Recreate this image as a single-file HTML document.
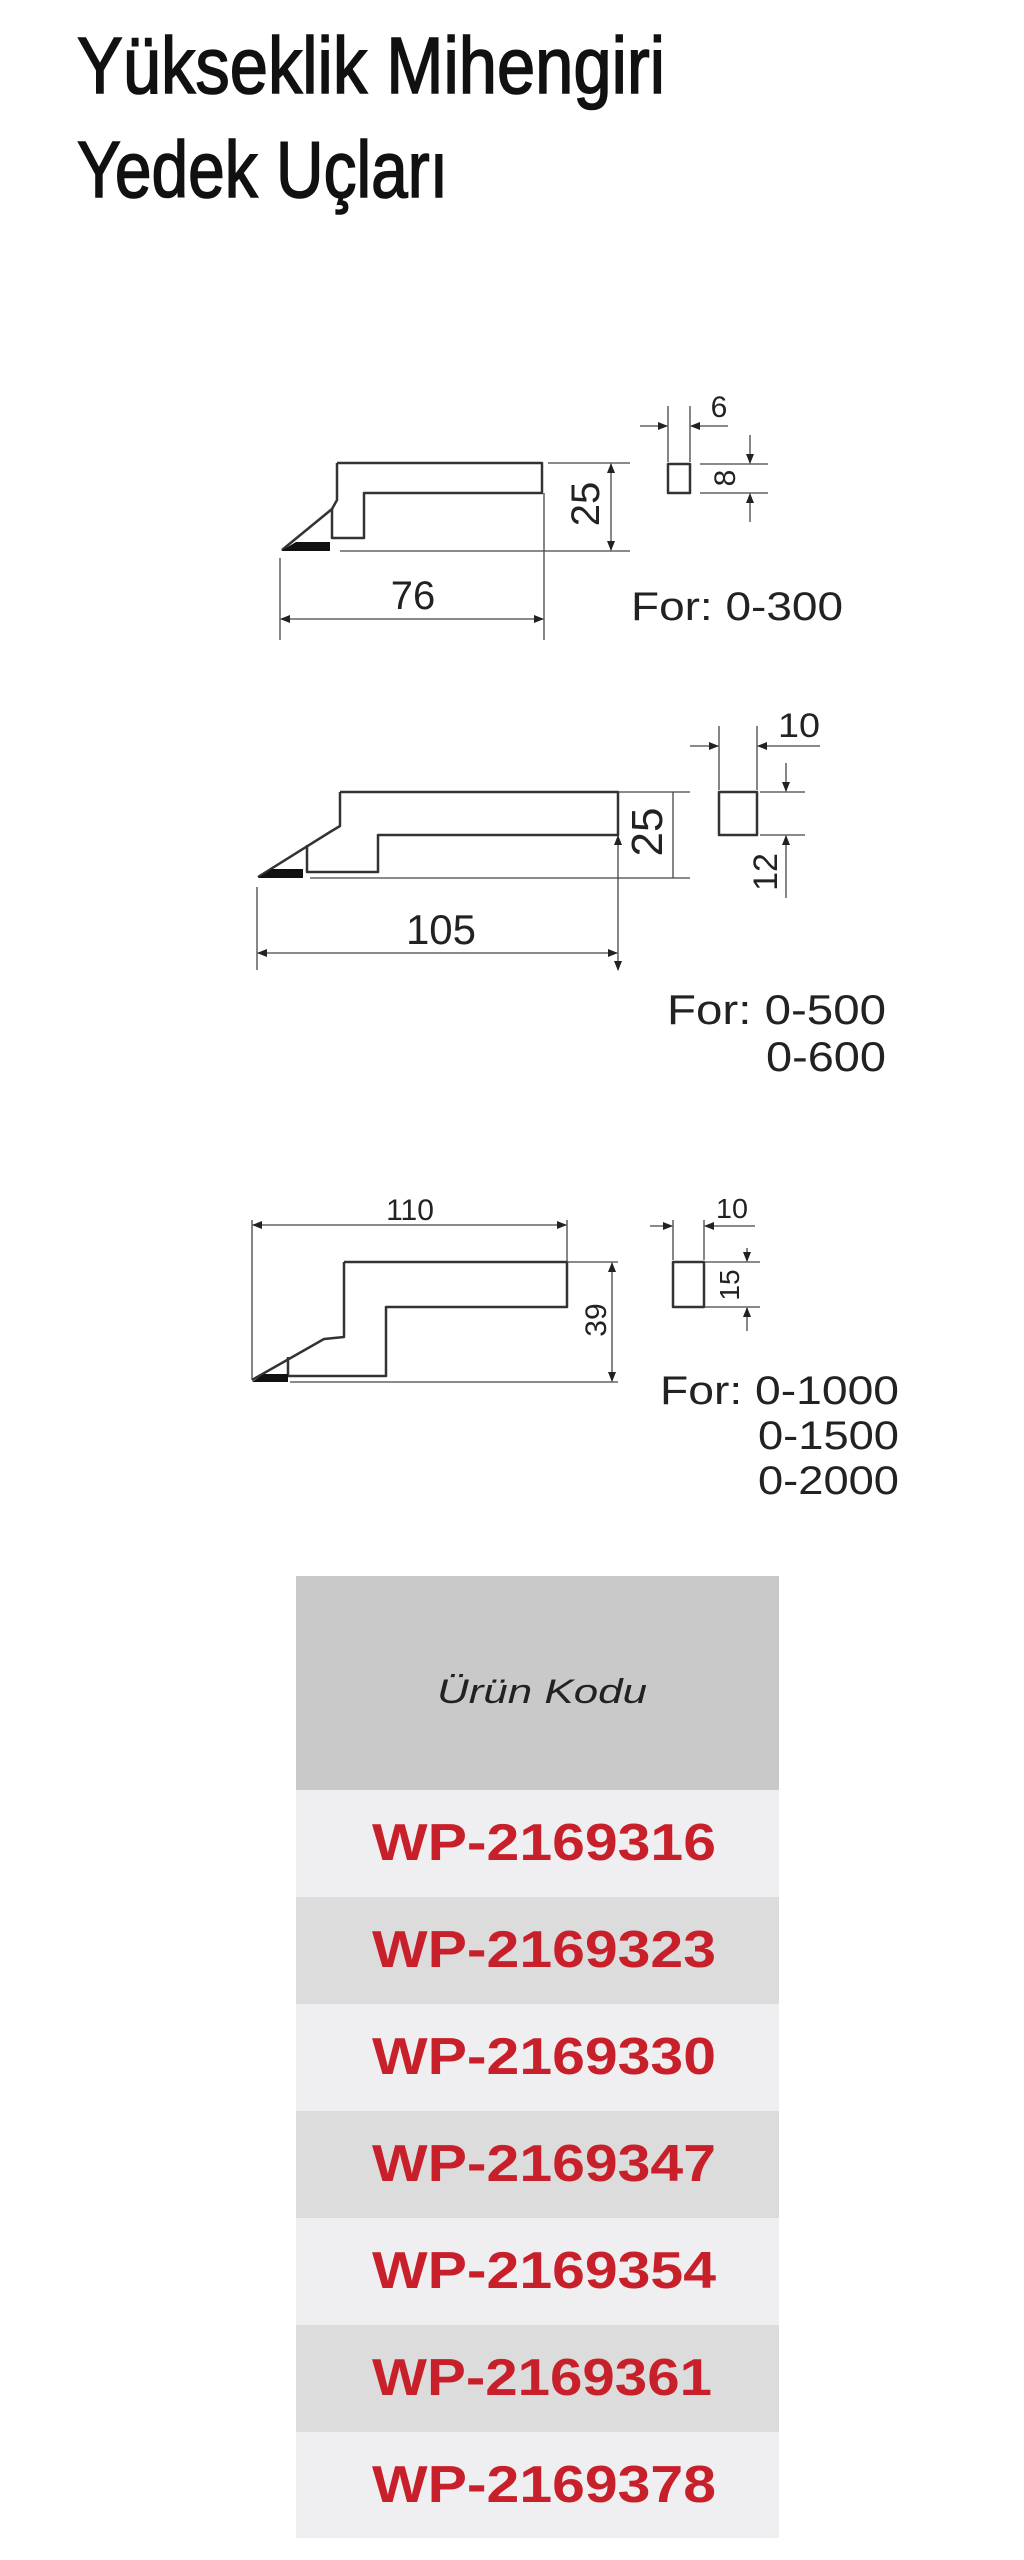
<!DOCTYPE html>
<html><head><meta charset="utf-8"><style>
html,body{margin:0;padding:0;background:#fff;}
svg{display:block;}
</style></head><body>
<svg width="1024" height="2560" viewBox="0 0 1024 2560" xmlns="http://www.w3.org/2000/svg">
<defs>
<marker id="a" markerWidth="10" markerHeight="8" refX="9" refY="4" orient="auto" markerUnits="userSpaceOnUse"><path d="M0,0 L10,4 L0,8 z" fill="#222"/></marker>
</defs>
<g font-family="Liberation Sans Narrow, Liberation Sans, sans-serif" fill="#111" stroke="#111" stroke-width="1.6">
<text x="77" y="93" font-size="80" textLength="588" lengthAdjust="spacingAndGlyphs">Yükseklik Mihengiri</text>
<text x="77" y="197" font-size="80" textLength="371" lengthAdjust="spacingAndGlyphs">Yedek Uçları</text>
</g>

<g fill="none" stroke="#333" stroke-width="2.5" stroke-linejoin="round">
<path d="M337,463 L542,463 L542,493 L364,493 L364,538 L332,538 L332,509"/>
<path d="M337,463 L337,500 L332,509 L282,550"/>
<path d="M340,792 L618,792 L618,835 L378,835 L378,872 L307,872 L307,845"/>
<path d="M340,792 L340,826 L330,832 L258,877"/>
<path d="M344,1262 L567,1262 L567,1307 L386,1307 L386,1376 L288,1376 L288,1357"/>
<path d="M344,1262 L344,1337 L324,1339 L252,1380"/>
<rect x="668" y="464" width="22" height="29"/>
<rect x="719" y="792" width="38" height="43"/>
<rect x="673" y="1262" width="31" height="45"/>
</g>
<g fill="#111">
<path d="M281,551 L296,542 L330,542 L330,551 z"/>
<path d="M258,878 L272,869 L303,869 L303,878 z"/>
<path d="M252,1382 L264,1374 L288,1374 L288,1382 z"/>
</g>

<g stroke="#444" stroke-width="1.3" fill="none">
<line x1="340" y1="551" x2="630" y2="551"/>
<line x1="548" y1="463" x2="630" y2="463"/>
<line x1="611" y1="507" x2="611" y2="464" marker-end="url(#a)"/>
<line x1="611" y1="507" x2="611" y2="550" marker-end="url(#a)"/>
<line x1="280" y1="558" x2="280" y2="640"/>
<line x1="544" y1="493" x2="544" y2="640"/>
<line x1="412" y1="619" x2="281" y2="619" marker-end="url(#a)"/>
<line x1="412" y1="619" x2="543" y2="619" marker-end="url(#a)"/>
<line x1="668" y1="406" x2="668" y2="462"/>
<line x1="690" y1="406" x2="690" y2="462"/>
<line x1="640" y1="426" x2="667" y2="426" marker-end="url(#a)"/>
<line x1="728" y1="426" x2="691" y2="426" marker-end="url(#a)"/>
<line x1="700" y1="464" x2="768" y2="464"/>
<line x1="700" y1="493" x2="768" y2="493"/>
<line x1="750" y1="435" x2="750" y2="463" marker-end="url(#a)"/>
<line x1="750" y1="522" x2="750" y2="494" marker-end="url(#a)"/>
<line x1="310" y1="878" x2="690" y2="878"/>
<line x1="618" y1="792" x2="690" y2="792"/>
<line x1="673" y1="792" x2="673" y2="878"/>
<line x1="618" y1="900" x2="618" y2="836" marker-end="url(#a)"/>
<line x1="618" y1="900" x2="618" y2="970" marker-end="url(#a)"/>
<line x1="257" y1="887" x2="257" y2="970"/>
<line x1="440" y1="953" x2="258" y2="953" marker-end="url(#a)"/>
<line x1="440" y1="953" x2="617" y2="953" marker-end="url(#a)"/>
<line x1="719" y1="726" x2="719" y2="790"/>
<line x1="757" y1="726" x2="757" y2="790"/>
<line x1="690" y1="746" x2="718" y2="746" marker-end="url(#a)"/>
<line x1="820" y1="746" x2="758" y2="746" marker-end="url(#a)"/>
<line x1="760" y1="792" x2="805" y2="792"/>
<line x1="760" y1="835" x2="805" y2="835"/>
<line x1="786" y1="763" x2="786" y2="791" marker-end="url(#a)"/>
<line x1="786" y1="898" x2="786" y2="836" marker-end="url(#a)"/>
<line x1="252" y1="1220" x2="252" y2="1380"/>
<line x1="567" y1="1220" x2="567" y2="1262"/>
<line x1="410" y1="1225" x2="253" y2="1225" marker-end="url(#a)"/>
<line x1="410" y1="1225" x2="566" y2="1225" marker-end="url(#a)"/>
<line x1="290" y1="1382" x2="618" y2="1382"/>
<line x1="567" y1="1262" x2="618" y2="1262"/>
<line x1="612" y1="1320" x2="612" y2="1263" marker-end="url(#a)"/>
<line x1="612" y1="1320" x2="612" y2="1381" marker-end="url(#a)"/>
<line x1="673" y1="1220" x2="673" y2="1260"/>
<line x1="704" y1="1220" x2="704" y2="1260"/>
<line x1="650" y1="1226" x2="672" y2="1226" marker-end="url(#a)"/>
<line x1="755" y1="1226" x2="705" y2="1226" marker-end="url(#a)"/>
<line x1="704" y1="1262" x2="760" y2="1262"/>
<line x1="704" y1="1307" x2="760" y2="1307"/>
<line x1="747" y1="1248" x2="747" y2="1261" marker-end="url(#a)"/>
<line x1="747" y1="1331" x2="747" y2="1308" marker-end="url(#a)"/>
</g>

<g font-family="Liberation Sans, Arial, sans-serif" fill="#222">
<text x="413" y="609" font-size="40" text-anchor="middle">76</text>
<text transform="translate(599,504) rotate(-90)" font-size="40" text-anchor="middle">25</text>
<text x="719" y="417" font-size="30" text-anchor="middle">6</text>
<text transform="translate(735,478) rotate(-90)" font-size="30" text-anchor="middle">8</text>
<text x="631" y="620" font-size="40" textLength="212" lengthAdjust="spacingAndGlyphs">For: 0-300</text>

<text x="441" y="944" font-size="42" text-anchor="middle">105</text>
<text transform="translate(662,832) rotate(-90)" font-size="44" text-anchor="middle">25</text>
<text x="778" y="737" font-size="34" textLength="42" lengthAdjust="spacingAndGlyphs">10</text>
<text transform="translate(777,872) rotate(-90)" font-size="34" text-anchor="middle">12</text>
<text x="667" y="1024" font-size="42" textLength="219" lengthAdjust="spacingAndGlyphs">For: 0-500</text>
<text x="766" y="1071" font-size="42" textLength="120" lengthAdjust="spacingAndGlyphs">0-600</text>

<text x="410" y="1220" font-size="30" text-anchor="middle">110</text>
<text transform="translate(606,1320) rotate(-90)" font-size="30" text-anchor="middle">39</text>
<text x="716" y="1218" font-size="28" textLength="32" lengthAdjust="spacingAndGlyphs">10</text>
<text transform="translate(739,1285) rotate(-90)" font-size="28" text-anchor="middle">15</text>
<text x="660" y="1404" font-size="40" textLength="239" lengthAdjust="spacingAndGlyphs">For: 0-1000</text>
<text x="758" y="1449" font-size="40" textLength="141" lengthAdjust="spacingAndGlyphs">0-1500</text>
<text x="758" y="1494" font-size="40" textLength="141" lengthAdjust="spacingAndGlyphs">0-2000</text>
</g>

<rect x="296" y="1576" width="483" height="214" fill="#c9c9c9"/>
<rect x="296" y="1790" width="483" height="107" fill="#efeff1"/>
<rect x="296" y="1897" width="483" height="107" fill="#dcdcdc"/>
<rect x="296" y="2004" width="483" height="107" fill="#efeff1"/>
<rect x="296" y="2111" width="483" height="107" fill="#dcdcdc"/>
<rect x="296" y="2218" width="483" height="107" fill="#efeff1"/>
<rect x="296" y="2325" width="483" height="107" fill="#dcdcdc"/>
<rect x="296" y="2432" width="483" height="106" fill="#efeff1"/>
<text x="437" y="1703" font-family="Liberation Sans, sans-serif" font-style="italic" font-size="34" fill="#222" textLength="210" lengthAdjust="spacingAndGlyphs">Ürün Kodu</text>
<g font-family="Liberation Sans, sans-serif" font-weight="bold" font-size="52" fill="#c8202a">
<text x="372" y="1860" textLength="344" lengthAdjust="spacingAndGlyphs">WP-2169316</text>
<text x="372" y="1967" textLength="344" lengthAdjust="spacingAndGlyphs">WP-2169323</text>
<text x="372" y="2074" textLength="344" lengthAdjust="spacingAndGlyphs">WP-2169330</text>
<text x="372" y="2181" textLength="344" lengthAdjust="spacingAndGlyphs">WP-2169347</text>
<text x="372" y="2288" textLength="344" lengthAdjust="spacingAndGlyphs">WP-2169354</text>
<text x="372" y="2395" textLength="340" lengthAdjust="spacingAndGlyphs">WP-2169361</text>
<text x="372" y="2502" textLength="344" lengthAdjust="spacingAndGlyphs">WP-2169378</text>
</g>
</svg>
</body></html>
